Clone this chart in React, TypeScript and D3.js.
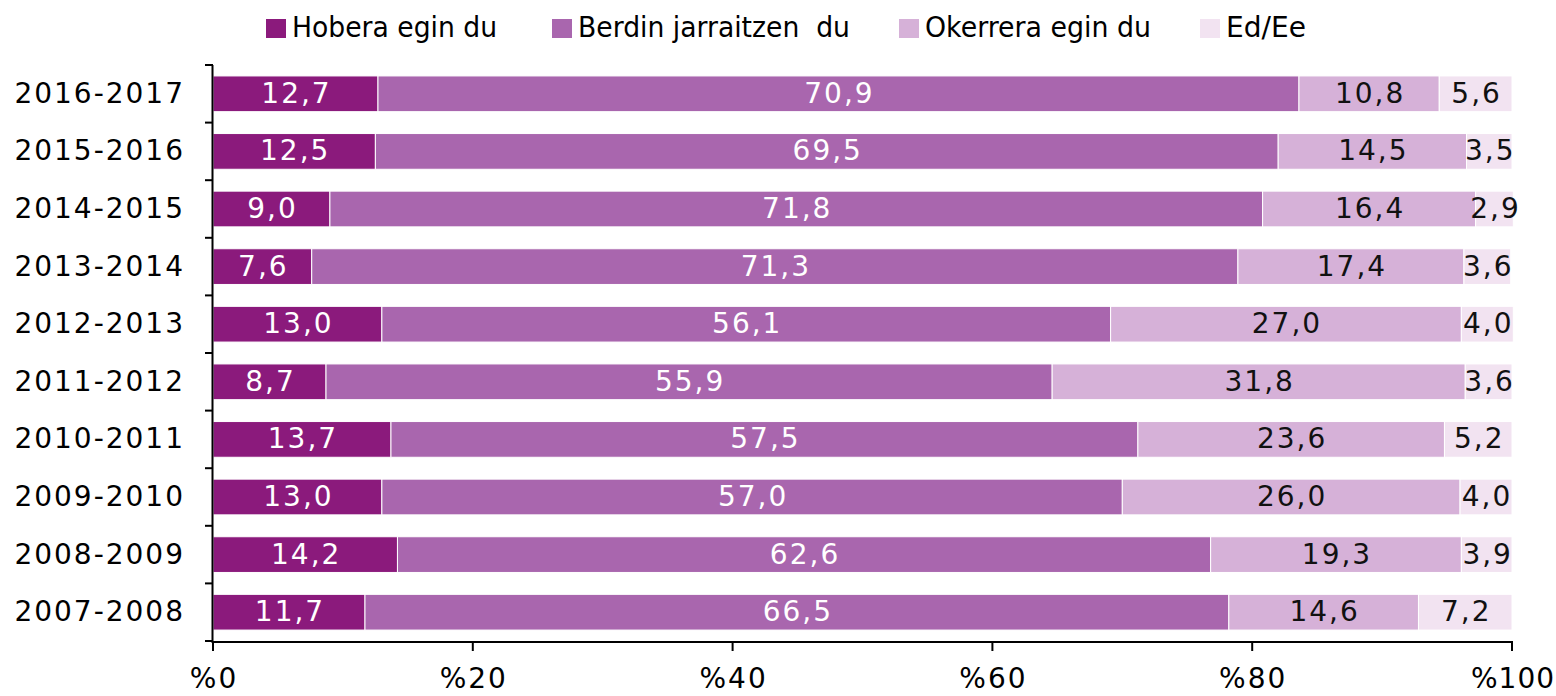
import React from "react";
import * as d3 from "d3";

const years = ["2016-2017","2015-2016","2014-2015","2013-2014","2012-2013","2011-2012","2010-2011","2009-2010","2008-2009","2007-2008"];
const seriesNames = ["Hobera egin du","Berdin jarraitzen  du","Okerrera egin du","Ed/Ee"];
const hobera = [12.7,12.5,9.0,7.6,13.0,8.7,13.7,13.0,14.2,11.7];
const berdin = [70.9,69.5,71.8,71.3,56.1,55.9,57.5,57.0,62.6,66.5];
const okerrera = [10.8,14.5,16.4,17.4,27.0,31.8,23.6,26.0,19.3,14.6];
const edee = [5.6,3.5,2.9,3.6,4.0,3.6,5.2,4.0,3.9,7.2];
const xTicks = [0,20,40,60,80,100];

const colors = ["#8b1a7c","#a966ae","#d6b1d8","#f2e3f1"];
const textColors = ["#fff","#fff","#111","#111"];

export default function App() {
  const W = 1556, H = 696;
  const left = 213, right = 1512, top = 65, bottom = 641;
  const x = d3.scaleLinear().domain([0,100]).range([left,right]);
  const y = d3.scaleBand().domain(years).range([top,bottom]).paddingInner(0.38).paddingOuter(0.19);
  const step = y.step();
  const all = [hobera, berdin, okerrera, edee];
  const rows = years.map((yr, i) => {
    let acc = 0;
    return all.map((s, k) => {
      const v = s[i];
      const seg = { k, x0: acc, x1: acc + v, v };
      acc += v;
      return seg;
    });
  });
  const font = "'DejaVu Sans', sans-serif";
  const legendX = [266, 552, 899, 1200];
  const legendW = [205, 272, 226, 80];
  return (
    <svg width={W} height={H} style={{display:"block", position:"absolute", left:0, top:0}}>
      <rect width={W} height={H} fill="#fff"/>
      {seriesNames.map((n, k) => (
        <g key={n}>
          <rect x={legendX[k]} y={19} width={20} height={19} fill={colors[k]}/>
          <text x={legendX[k]+26} y={37} fontFamily={font} fontSize={29} fill="#000" textLength={legendW[k]} lengthAdjust="spacingAndGlyphs" style={{whiteSpace:"pre"}}>{n}</text>
        </g>
      ))}
      {years.map((yr, i) => (
        <g key={yr}>
          {rows[i].map(s => (
            <g key={s.k}>
              <rect x={x(s.x0)} y={y(yr)} width={x(s.x1)-x(s.x0)} height={y.bandwidth()} fill={colors[s.k]} stroke="#fff" strokeWidth={1}/>
              <text x={(x(s.x0)+x(s.x1))/2 + 1} y={y(yr)!+y.bandwidth()/2+9} textAnchor="middle" fontFamily={font} fontSize={28} letterSpacing={2} fill={textColors[s.k]}>{s.v.toFixed(1).replace(".", ",")}</text>
            </g>
          ))}
          <text x={185} y={y(yr)!+y.bandwidth()/2+9} textAnchor="end" fontFamily={font} fontSize={28} letterSpacing={2} fill="#000">{yr}</text>
        </g>
      ))}
      <line x1={left-0.5} x2={left-0.5} y1={top} y2={bottom+1} stroke="#000" strokeWidth={2}/>
      {d3.range(years.length+1).map(j => (
        <line key={j} x1={left-8} x2={left} y1={top+j*step} y2={top+j*step} stroke="#000" strokeWidth={2}/>
      ))}
      <line x1={left-1.5} x2={right+1} y1={bottom+1} y2={bottom+1} stroke="#000" strokeWidth={2}/>
      {xTicks.map(t => (
        <g key={t}>
          <line x1={x(t)} x2={x(t)} y1={bottom} y2={bottom+10} stroke="#000" strokeWidth={2}/>
          <text x={x(t)+1} y={688} textAnchor="middle" fontFamily={font} fontSize={28} letterSpacing={t === 100 ? 1 : 2} fill="#000">{"%" + t}</text>
        </g>
      ))}
    </svg>
  );
}
